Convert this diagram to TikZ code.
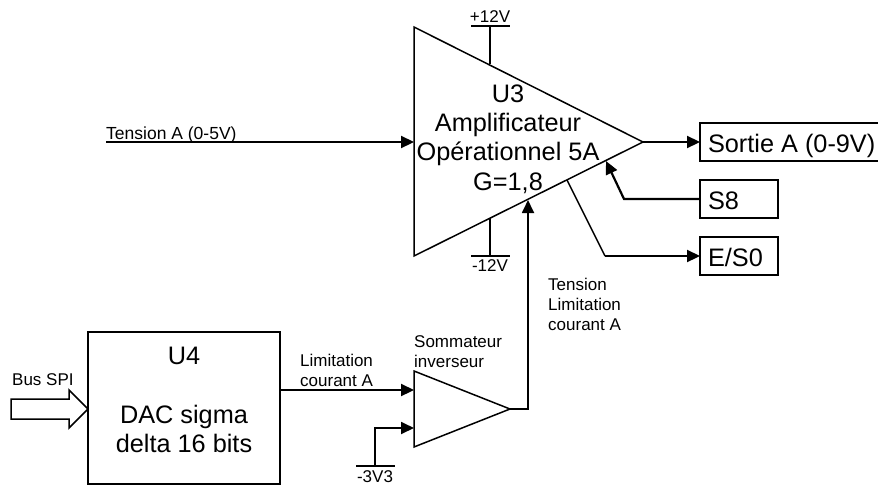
\documentclass[tikz,border=0pt]{standalone}
\usepackage{fontspec}
\setmainfont{Liberation Sans}
\usetikzlibrary{arrows.meta}
\tikzset{
	big/.style={font=\fontsize{25.3}{29.3}\selectfont, align=center, inner sep=0pt},
	small/.style={font=\fontsize{17}{20}\selectfont, align=left, inner sep=0pt},
	boite/.style={draw, line width=1.5pt, outer sep=0pt, minimum height=38pt, inner ysep=0pt, inner xsep=8pt, text height=20pt, text depth=0pt, font=\fontsize{25.3}{29.3}\selectfont, anchor=north west},
	trait/.style={line width=1.5pt},
	fleche/.style={line width=2.2pt, -{Triangle[length=13pt, width=12pt]}}
}
\begin{document}
\begin{tikzpicture}[x=1pt, y=-1pt, line join=miter]
	\useasboundingbox (0,0) rectangle (878,485);
	% ampli U3
	\coordinate (a1) at (414,27);
	\coordinate (a2) at (414,256);
	\coordinate (a3) at (643,142);
	\draw[trait] (a1) -- (a2) -- (a3) -- cycle;
	\node[big] (u3) at (508,139) {U3\\Amplificateur\\Opérationnel 5A\\G=1,8};
	% alimentations
	\foreach \nom/\yb/\ya/\dy/\txt in {p/26/64/-9/+12V, m/256/218/10/-12V} {
		\coordinate (\nom a) at (490,\ya);
		\coordinate (\nom b) at (490,\yb);
		\draw[trait] (\nom a) -- (\nom b);
		\draw[trait] (471,\yb) -- (510,\yb);
		\node[small] (\nom t) at (490,\yb+\dy) {\txt};
	}
	% sorties
	\node[boite] (sortie) at (700,123) {Sortie A (0-9V)};
	\node[boite, minimum width=78pt, text width=62pt] (s8) at (700,180) {S8};
	\node[boite, minimum width=78pt, text width=62pt] (es0) at (700,237) {E/S0};
	\draw[fleche] (a3) -- (sortie.west);
	\coordinate (s8a) at (624,199);
	\coordinate (s8b) at (606,161);
	\draw[fleche] (s8.west) -- (s8a) -- (s8b);
	\coordinate (esa) at (567,180);
	\coordinate (esb) at (605,256);
	\draw[trait] (esa) -- (esb);
	\draw[fleche] (esb) -- (es0.west);
	% entree A
	\coordinate (ea) at (106,142);
	\draw[fleche] (ea) -- (a3 -| a1);
	\node[small, font=\fontsize{17.5}{20}\selectfont, anchor=south west] (eat) at (106,143) {Tension A (0-5V)};
	% U4
	\draw[trait] (88,332) rectangle (280,484);
	\coordinate (u4e) at (88,409);
	\coordinate (u4s) at (280,390);
	\node[big] (u4) at (184,356) {U4};
	\node[big, anchor=south] (dac) at (184,453) {DAC sigma\\delta 16 bits};
	\draw[trait, fill=white] (11,399) -- (69,399) -- (69,390) -- (u4e) -- (69,428) -- (69,419) -- (11,419) -- cycle;
	\node[small, anchor=south west] (bus) at (12,386) {Bus SPI};
	% sommateur
	\coordinate (b1) at (414,371);
	\coordinate (b2) at (414,447);
	\coordinate (b3) at (510,409);
	\draw[trait] (b1) -- (b2) -- (b3) -- cycle;
	\node[small, anchor=south west] (som) at (414,368) {Sommateur\\inverseur};
	\node[small, anchor=south west] (lim) at (300,387) {Limitation\\courant A};
	\draw[fleche] (u4s) -- (u4s -| b1);
	\coordinate (m3a) at (375,466);
	\draw[fleche, line width=1.8pt] (m3a) -- (375,428) -- (414,428);
	\draw[trait] (356,466) -- (395,466);
	\node[small] (m3t) at (375,477) {-3V3};
	% limitation vers U3
	\coordinate (li) at (528,200);
	\draw[fleche, line width=1.8pt] (b3) -- (li |- b3) -- (li);
	\node[small, anchor=south west] (tl) at (548,331) {Tension\\Limitation\\courant A};
\end{tikzpicture}
\end{document}
